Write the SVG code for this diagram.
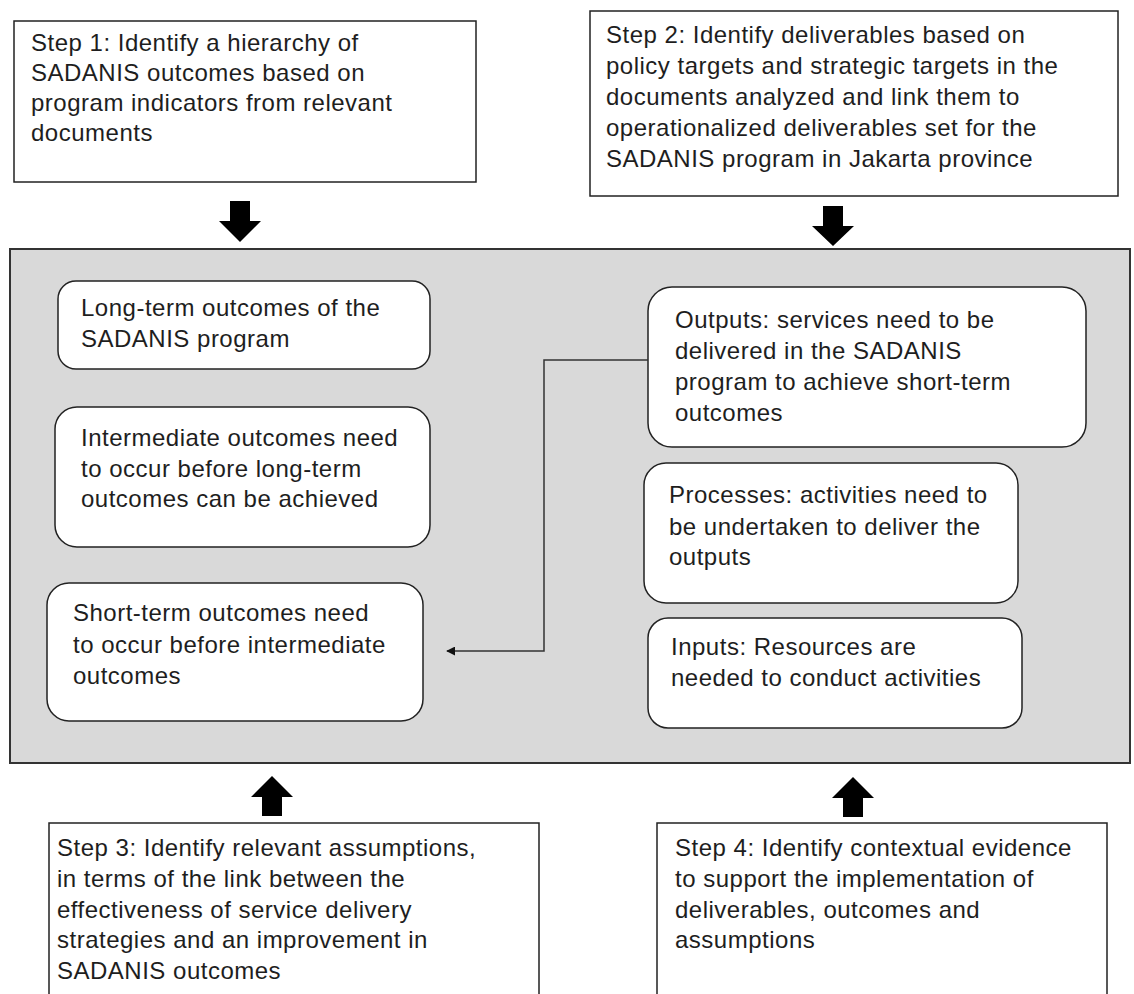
<svg xmlns="http://www.w3.org/2000/svg" width="1134" height="994" viewBox="0 0 1134 994">
<style>
.box{fill:#fff;stroke:#222;stroke-width:1.5}
.rbox{fill:#fff;stroke:#222;stroke-width:1.5}
.panel{fill:#d9d9d9;stroke:#333;stroke-width:2}
.t{font-family:"Liberation Sans",Arial,sans-serif;font-size:24px;letter-spacing:0.5px;fill:#1e1e1e}
.blk{fill:#000}
.conn{fill:none;stroke:#333;stroke-width:1.5}
</style>
<defs>
<marker id="ah" viewBox="0 0 10 10" refX="9" refY="5" markerWidth="9" markerHeight="9" markerUnits="userSpaceOnUse" orient="auto">
<path d="M0,0 L10,5 L0,10 z" fill="#111"/>
</marker>
</defs>
<rect width="1134" height="994" fill="#fff"/>
<g id="panel"><rect class="panel" x="10" y="249" width="1120" height="514"/></g>

<g id="step1">
<rect class="box" x="14" y="21" width="462" height="161"/>
<text class="t"><tspan x="31" y="51">Step 1: Identify a hierarchy of</tspan><tspan x="31" y="81">SADANIS outcomes based on</tspan><tspan x="31" y="111">program indicators from relevant</tspan><tspan x="31" y="141">documents</tspan></text>
</g>
<g id="step2">
<rect class="box" x="590" y="11" width="528" height="185"/>
<text class="t"><tspan x="606" y="43">Step 2: Identify deliverables based on</tspan><tspan x="606" y="74">policy targets and strategic targets in the</tspan><tspan x="606" y="105">documents analyzed and link them to</tspan><tspan x="606" y="136">operationalized deliverables set for the</tspan><tspan x="606" y="167">SADANIS program in Jakarta province</tspan></text>
</g>
<g id="long-term">
<rect class="rbox" x="58" y="281" width="372" height="88" rx="18"/>
<text class="t"><tspan x="81" y="316">Long-term outcomes of the</tspan><tspan x="81" y="347">SADANIS program</tspan></text>
</g>
<g id="intermediate">
<rect class="rbox" x="55" y="407" width="375" height="140" rx="22"/>
<text class="t"><tspan x="81" y="446">Intermediate outcomes need</tspan><tspan x="81" y="477">to occur before long-term</tspan><tspan x="81" y="507">outcomes can be achieved</tspan></text>
</g>
<g id="short-term">
<rect class="rbox" x="47" y="583" width="376" height="138" rx="22"/>
<text class="t"><tspan x="73" y="621">Short-term outcomes need</tspan><tspan x="73" y="653">to occur before intermediate</tspan><tspan x="73" y="684">outcomes</tspan></text>
</g>
<g id="outputs">
<rect class="rbox" x="648" y="287" width="438" height="160" rx="24"/>
<text class="t"><tspan x="675" y="328">Outputs: services need to be</tspan><tspan x="675" y="359">delivered in the SADANIS</tspan><tspan x="675" y="390">program to achieve short-term</tspan><tspan x="675" y="421">outcomes</tspan></text>
</g>
<g id="processes">
<rect class="rbox" x="644" y="463" width="374" height="140" rx="22"/>
<text class="t"><tspan x="669" y="503">Processes: activities need to</tspan><tspan x="669" y="535">be undertaken to deliver the</tspan><tspan x="669" y="565">outputs</tspan></text>
</g>
<g id="inputs">
<rect class="rbox" x="648" y="618" width="374" height="110" rx="20"/>
<text class="t"><tspan x="671" y="655">Inputs: Resources are</tspan><tspan x="671" y="686">needed to conduct activities</tspan></text>
</g>
<g id="step3">
<path class="box" d="M49,1000 V823 H539 V1000"/>
<text class="t"><tspan x="57" y="856">Step 3: Identify relevant assumptions,</tspan><tspan x="57" y="887">in terms of the link between the</tspan><tspan x="57" y="918">effectiveness of service delivery</tspan><tspan x="57" y="948">strategies and an improvement in</tspan><tspan x="57" y="979">SADANIS outcomes</tspan></text>
</g>
<g id="step4">
<path class="box" d="M657,1000 V823 H1107 V1000"/>
<text class="t"><tspan x="675" y="856">Step 4: Identify contextual evidence</tspan><tspan x="675" y="887">to support the implementation of</tspan><tspan x="675" y="918">deliverables, outcomes and</tspan><tspan x="675" y="948">assumptions</tspan></text>
</g>

<g id="connectors">
<polygon class="blk" points="230,201 250,201 250,221 261,221 240,242 219,221 230,221"/>
<polygon class="blk" points="823,206 843,206 843,226 854,226 833,246 812,226 823,226"/>
<polygon class="blk" points="272,776 293,797 282,797 282,816 262,816 262,797 251,797"/>
<polygon class="blk" points="853,777 874,798 863,798 863,817 843,817 843,798 832,798"/>
<path class="conn" d="M648,360 H544 V651 H447" marker-end="url(#ah)"/>
</g>
</svg>
